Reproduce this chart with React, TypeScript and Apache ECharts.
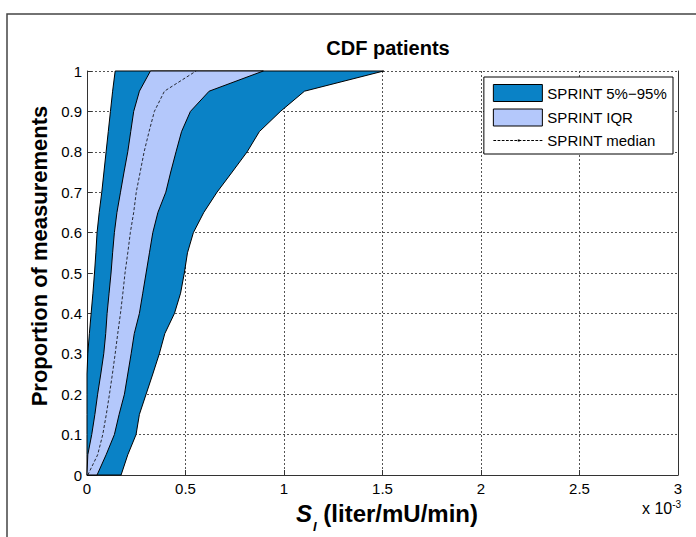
import React, { useEffect, useRef } from "react";
import * as echarts from "echarts";

// Proportion of measurements (CDF level)
const levels = [0, 0.05, 0.1, 0.15, 0.2, 0.25, 0.3, 0.35, 0.4, 0.45, 0.5, 0.55, 0.6, 0.65, 0.7, 0.75, 0.8, 0.85, 0.9, 0.95, 1];
// S_I values (x 10^-3 liter/mU/min) for each percentile curve
const p05 = [0, 0, 0, 0, 0, 0, 0.004, 0.012, 0.021, 0.03, 0.038, 0.045, 0.051, 0.062, 0.075, 0.086, 0.097, 0.108, 0.119, 0.13, 0.143];
const p25 = [0, 0.004, 0.024, 0.04, 0.054, 0.07, 0.085, 0.095, 0.102, 0.112, 0.122, 0.13, 0.139, 0.152, 0.17, 0.188, 0.207, 0.222, 0.237, 0.266, 0.322];
const p50 = [0.004, 0.054, 0.08, 0.098, 0.114, 0.129, 0.143, 0.156, 0.17, 0.182, 0.193, 0.207, 0.22, 0.237, 0.25, 0.27, 0.29, 0.315, 0.342, 0.393, 0.554];
const p75 = [0.051, 0.097, 0.139, 0.163, 0.19, 0.207, 0.224, 0.24, 0.266, 0.283, 0.3, 0.317, 0.334, 0.36, 0.4, 0.425, 0.452, 0.48, 0.525, 0.62, 0.895];
const p95 = [0.173, 0.207, 0.249, 0.266, 0.3, 0.334, 0.367, 0.395, 0.444, 0.475, 0.494, 0.51, 0.54, 0.593, 0.66, 0.737, 0.813, 0.875, 0.982, 1.104, 1.506];

const seriesNames = ["SPRINT 5%\u221295%", "SPRINT IQR", "SPRINT median"];

const DARK = "#0a82c6";
const LIGHT = "#b4c8fb";
const FONT = "'Liberation Sans', Arial, Helvetica, sans-serif";

function dashedIconPath(): string {
  let d = "path://";
  for (let x = 0; x < 48; x += 4) {
    d += `M${x},0.6h2.6v0.8h-2.6z `;
  }
  d += "M23.2,0h1.8v2h-1.8z";
  return d;
}

function bandSeries(name: string, lower: number[], upper: number[], color: string, z: number) {
  return {
    type: "custom",
    name,
    coordinateSystem: "cartesian2d",
    z,
    data: levels.map((p, i) => [lower[i], upper[i], p]),
    encode: { x: [0, 1], y: 2 },
    itemStyle: { color },
    renderItem: (params: any, api: any) => {
      if (params.dataIndex !== 0) return null;
      const pts: number[][] = [];
      for (let i = 0; i < levels.length; i++) pts.push(api.coord([lower[i], levels[i]]));
      for (let i = levels.length - 1; i >= 0; i--) pts.push(api.coord([upper[i], levels[i]]));
      return {
        type: "polygon",
        shape: { points: pts },
        style: { fill: color, stroke: "#000", lineWidth: 1 },
      };
    },
  };
}

export default function App() {
  const ref = useRef<HTMLDivElement>(null);
  useEffect(() => {
    if (!ref.current) return;
    const chart = echarts.init(ref.current, null, { renderer: "svg" });
    chart.setOption({
      animation: false,
      backgroundColor: "#fff",
      textStyle: { fontFamily: FONT },
      title: {
        text: "CDF patients",
        left: 383,
        top: 33,
        textAlign: "center",
        textStyle: { fontFamily: FONT, fontWeight: "bold", fontSize: 20, color: "#000" },
      },
      grid: { left: 87, right: 18, top: 71, bottom: 62 },
      xAxis: {
        type: "value",
        min: 0,
        max: 3,
        interval: 0.5,
        axisLine: { show: true, onZero: false, lineStyle: { color: "#333", width: 1 } },
        axisTick: { show: true, inside: true, length: 5, lineStyle: { color: "#333" } },
        axisLabel: { fontSize: 15, color: "#000", margin: 6, fontFamily: FONT },
        splitLine: { show: true, lineStyle: { color: "#555", type: [2, 2], width: 1 } },
      },
      yAxis: [
        {
          type: "value",
          min: 0,
          max: 1,
          interval: 0.1,
          axisLine: { show: true, onZero: false, lineStyle: { color: "#333", width: 1 } },
          axisTick: { show: true, inside: true, length: 5, lineStyle: { color: "#333" } },
          axisLabel: { fontSize: 15, color: "#000", margin: 5, fontFamily: FONT },
          splitLine: { show: true, lineStyle: { color: "#555", type: [2, 2], width: 1 } },
        },
        {
          type: "value",
          position: "right",
          min: 0,
          max: 1,
          interval: 0.1,
          axisLine: { show: true, onZero: false, lineStyle: { color: "#333", width: 1 } },
          axisTick: { show: false },
          axisLabel: { show: false },
          splitLine: { show: false },
        },
      ],
      legend: {
        orient: "vertical",
        right: 23,
        top: 77,
        padding: [7, 6, 6, 9],
        itemWidth: 49,
        itemHeight: 17,
        itemGap: 6.5,
        borderColor: "#000",
        borderWidth: 1,
        backgroundColor: "#fff",
        textStyle: { fontSize: 15, color: "#000", fontFamily: FONT },
        data: [
          { name: seriesNames[0], icon: "rect", itemStyle: { color: DARK, borderColor: "#000", borderWidth: 1 } },
          { name: seriesNames[1], icon: "rect", itemStyle: { color: LIGHT, borderColor: "#000", borderWidth: 1 } },
          { name: seriesNames[2], icon: dashedIconPath(), itemStyle: { color: "#000" } },
        ],
      },
      series: [
        bandSeries(seriesNames[0], p05, p95, DARK, 2),
        bandSeries(seriesNames[1], p25, p75, LIGHT, 3),
        {
          type: "line",
          name: seriesNames[2],
          z: 4,
          symbol: "none",
          data: levels.map((p, i) => [p50[i], p]),
          lineStyle: { color: "#000", width: 0.8, type: [3, 2] },
          itemStyle: { color: "#000" },
        },
      ],
      graphic: [
        {
          type: "rect",
          silent: true,
          z: -10,
          shape: { x: 7, y: 14, width: 720, height: 560 },
          style: { fill: "none", stroke: "#444", lineWidth: 1.5 },
        },
        {
          type: "text",
          x: 39,
          y: 256,
          rotation: Math.PI / 2,
          style: {
            text: "Proportion of measurements",
            font: `bold 22px ${FONT}`,
            fill: "#000",
            align: "center",
            verticalAlign: "middle",
          },
        },
        {
          type: "text",
          x: 387,
          y: 513,
          style: {
            text: "{s|S}{i|I}{n| (liter/mU/min)}",
            align: "center",
            verticalAlign: "middle",
            rich: {
              s: { fontFamily: FONT, fontSize: 24, fontWeight: "bold", fontStyle: "italic", fill: "#000", lineHeight: 28 },
              i: { fontFamily: FONT, fontSize: 13, fontWeight: "bold", fontStyle: "italic", fill: "#000", verticalAlign: "bottom", lineHeight: 12, padding: [0, 0, -6, 1] },
              n: { fontFamily: FONT, fontSize: 24, fontWeight: "bold", fill: "#000", lineHeight: 28 },
            },
          },
        },
        {
          type: "text",
          x: 642,
          y: 508,
          style: {
            text: "{a|x 10}{b|-3}",
            align: "left",
            verticalAlign: "middle",
            rich: {
              a: { fontFamily: FONT, fontSize: 16, fill: "#000", lineHeight: 18 },
              b: { fontFamily: FONT, fontSize: 10, fill: "#000", verticalAlign: "top", lineHeight: 10, padding: [0, 0, 8, 0] },
            },
          },
        },
      ],
    });
    return () => chart.dispose();
  }, []);
  return (
    <div
      ref={ref}
      style={{ position: "absolute", left: 0, top: 0, width: 696, height: 537, background: "#fff" }}
    />
  );
}
